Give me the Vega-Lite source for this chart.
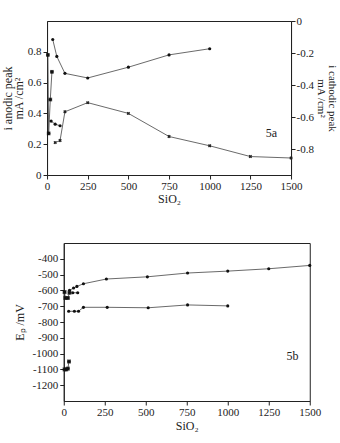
{
  "$schema": "https://vega.github.io/schema/vega-lite/v6.json",
  "padding": {"left": 0, "top": 14, "right": 0, "bottom": 2},
  "background": "white",
  "spacing": 37,
  "center": true,
  "config": {
    "font": "Liberation Serif",
    "view": {"stroke": "#222", "strokeWidth": 1},
    "axis": {"grid": false, "domainColor": "#222", "tickColor": "#222", "labelColor": "#222", "titleColor": "#222", "labelFont": "Liberation Serif", "titleFont": "Liberation Serif", "labelFontSize": 11, "titleFontSize": 12, "titleFontWeight": "normal", "tickSize": 4, "labelPadding": 2, "labelOverlap": false, "labelFlush": false, "titleLineHeight": 11}
  },
  "datasets": {
    "top": [
      {"x": 5, "v": 0.78, "s": "S1"}, {"x": 10, "v": 0.27, "s": "S1"}, {"x": 20, "v": 0.49, "s": "S1"}, {"x": 30, "v": 0.67, "s": "S1"},
      {"x": 25, "v": 0.35, "s": "S2"}, {"x": 50, "v": 0.33, "s": "S2"}, {"x": 80, "v": 0.32, "s": "S2"},
      {"x": 35, "v": 0.88, "s": "S4"}, {"x": 60, "v": 0.77, "s": "S4"}, {"x": 110, "v": 0.66, "s": "S4"}, {"x": 250, "v": 0.63, "s": "S4"}, {"x": 500, "v": 0.70, "s": "S4"}, {"x": 750, "v": 0.78, "s": "S4"}, {"x": 1000, "v": 0.82, "s": "S4"},
      {"x": 50, "v": -0.758, "s": "S3"}, {"x": 80, "v": -0.745, "s": "S3"}, {"x": 110, "v": -0.566, "s": "S3"}, {"x": 250, "v": -0.509, "s": "S3"}, {"x": 500, "v": -0.576, "s": "S3"}, {"x": 750, "v": -0.72, "s": "S3"}, {"x": 1000, "v": -0.778, "s": "S3"}, {"x": 1250, "v": -0.845, "s": "S3"}, {"x": 1500, "v": -0.854, "s": "S3"}
    ],
    "bottom": [
      {"x": 5, "v": -610, "s": "B2"}, {"x": 10, "v": -648, "s": "B2"}, {"x": 25, "v": -648, "s": "B2"}, {"x": 35, "v": -615, "s": "B2"},
      {"x": 55, "v": -615, "s": "B3"}, {"x": 85, "v": -615, "s": "B3"},
      {"x": 35, "v": -600, "s": "B1"}, {"x": 60, "v": -585, "s": "B1"}, {"x": 80, "v": -575, "s": "B1"}, {"x": 120, "v": -558, "s": "B1"}, {"x": 260, "v": -528, "s": "B1"}, {"x": 510, "v": -514, "s": "B1"}, {"x": 755, "v": -490, "s": "B1"}, {"x": 1000, "v": -478, "s": "B1"}, {"x": 1250, "v": -463, "s": "B1"}, {"x": 1500, "v": -442, "s": "B1"},
      {"x": 30, "v": -732, "s": "B4"}, {"x": 65, "v": -732, "s": "B4"}, {"x": 90, "v": -732, "s": "B4"}, {"x": 120, "v": -707, "s": "B4"}, {"x": 265, "v": -707, "s": "B4"}, {"x": 515, "v": -710, "s": "B4"}, {"x": 755, "v": -692, "s": "B4"}, {"x": 1000, "v": -698, "s": "B4"},
      {"x": 5, "v": -1100, "s": "B5"}, {"x": 15, "v": -1100, "s": "B5"}, {"x": 25, "v": -1095, "s": "B5"}, {"x": 32, "v": -1050, "s": "B5"}
    ],
    "labels": [
      {"panel": "a", "x": 1380, "v": 0.27, "t": "5a"},
      {"panel": "b", "x": 1395, "v": -1015, "t": "5b"}
    ]
  },
  "vconcat": [
    {
      "width": 244,
      "height": 154,
      "layer": [
        {
          "encoding": {
            "x": {"field": "x", "type": "quantitative", "scale": {"domain": [0, 1500], "nice": false}, "axis": {"values": [0, 250, 500, 750, 1000, 1250, 1500], "format": "d", "title": "SiO₂", "titlePadding": 2, "labelPadding": 1}},
            "y": {"field": "v", "type": "quantitative", "scale": {"domain": [0, 1], "nice": false}, "axis": {"values": [0, 0.2, 0.4, 0.6, 0.8], "labelExpr": "datum.value == 0 ? '0' : format(datum.value, '.1f')", "title": ["i anodic peak", "mA /cm²"], "titlePadding": 2}}
          },
          "layer": [
            {
              "data": {"name": "top"},
              "transform": [{"filter": "datum.s != 'S3'"}],
              "mark": {"type": "line", "color": "#444", "strokeWidth": 0.8, "point": {"filled": true, "color": "#111", "size": 10}},
              "encoding": {"detail": {"field": "s"}}
            },
            {
              "data": {"name": "top"},
              "transform": [{"filter": "datum.s == 'S1'"}],
              "mark": {"type": "square", "filled": true, "color": "#111", "size": 14}
            },
            {
              "data": {"name": "labels"},
              "transform": [{"filter": "datum.panel == 'a'"}],
              "mark": {"type": "text", "fontSize": 12, "color": "#222", "font": "Liberation Serif"},
              "encoding": {"text": {"field": "t"}}
            }
          ]
        },
        {
          "data": {"name": "top"},
          "transform": [{"filter": "datum.s == 'S3'"}],
          "mark": {"type": "line", "color": "#444", "strokeWidth": 0.8, "point": {"shape": "cross", "filled": true, "color": "#222", "size": 12, "angle": 45}},
          "encoding": {
            "x": {"field": "x", "type": "quantitative"},
            "y": {"field": "v", "type": "quantitative", "scale": {"domain": [-0.96, 0], "nice": false}, "axis": {"orient": "right", "values": [0, -0.2, -0.4, -0.6, -0.8], "labelExpr": "datum.value == 0 ? '0' : '-' + format(abs(datum.value), '.1f')", "title": ["i cathodic peak", "mA /cm²"], "titleAngle": 90, "titleFontSize": 11, "titleLineHeight": 11, "titlePadding": 2, "labelPadding": 1}}
          }
        }
      ],
      "resolve": {"scale": {"y": "independent"}, "axis": {"y": "independent"}}
    },
    {
      "width": 246,
      "height": 158,
      "encoding": {
        "x": {"field": "x", "type": "quantitative", "scale": {"domain": [0, 1500], "nice": false}, "axis": {"values": [0, 250, 500, 750, 1000, 1250, 1500], "format": "d", "title": "SiO₂", "titlePadding": 3, "labelPadding": 1}},
        "y": {"field": "v", "type": "quantitative", "scale": {"domain": [-1300, -300], "nice": false}, "axis": {"values": [-400, -500, -600, -700, -800, -900, -1000, -1100, -1200], "labelExpr": "'-' + abs(datum.value)", "title": "Eₚ /mV", "titlePadding": 6, "labelOverlap": false}}
      },
      "layer": [
        {
          "data": {"name": "bottom"},
          "mark": {"type": "line", "color": "#444", "strokeWidth": 0.8, "point": {"filled": true, "color": "#111", "size": 10}},
          "encoding": {"detail": {"field": "s"}}
        },
        {
          "data": {"name": "bottom"},
          "transform": [{"filter": "datum.s == 'B2' || datum.s == 'B5'"}],
          "mark": {"type": "square", "filled": true, "color": "#111", "size": 16}
        },
        {
          "data": {"name": "labels"},
          "transform": [{"filter": "datum.panel == 'b'"}],
          "mark": {"type": "text", "fontSize": 12, "color": "#222", "font": "Liberation Serif"},
          "encoding": {"text": {"field": "t"}}
        }
      ]
    }
  ]
}
